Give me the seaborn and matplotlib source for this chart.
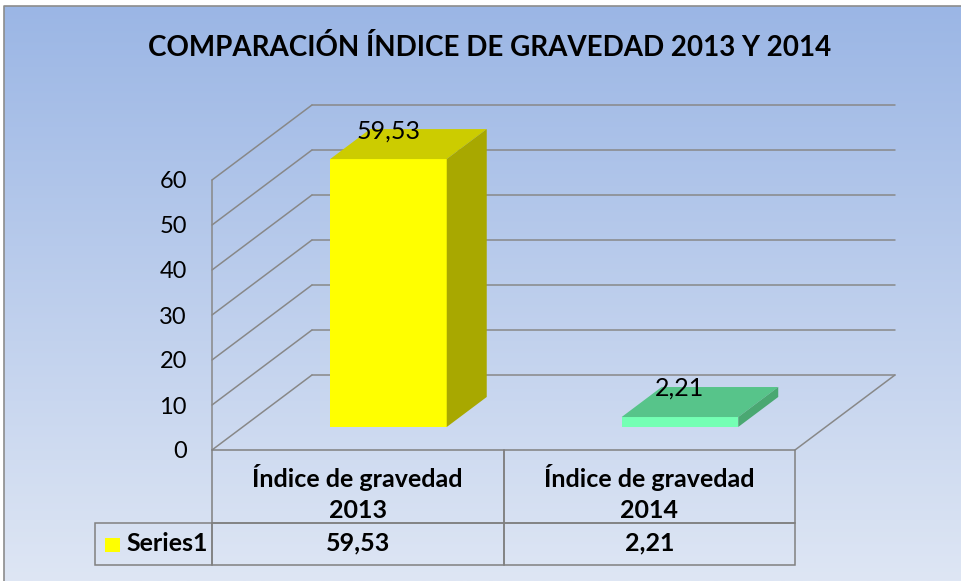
import numpy as np
import pandas as pd
import matplotlib
matplotlib.use('Agg')
import matplotlib.pyplot as plt
from matplotlib.patches import Rectangle
import seaborn as sns

# data
categories = ['Índice de gravedad\n2013', 'Índice de gravedad\n2014']
values = [59.53, 2.21]
value_labels = ['59,53', '2,21']
series_name = 'Series1'
y_ticks = [0, 10, 20, 30, 40, 50, 60]
title = 'COMPARACIÓN ÍNDICE DE GRAVEDAD 2013 Y 2014'

front_colors = ['#FFFF00', '#74FFB4']
top_colors = ['#CCCC00', '#57C48A']
side_colors = ['#A8A800', '#4AA872']
GRID = '#888888'
TABLE_EDGE = '#808080'

sns.set_theme(style='white')
plt.rcParams['font.family'] = ['Lato', 'DejaVu Sans']

fig = plt.figure(figsize=(9.61, 5.81), dpi=100)

# background gradient with border
bg = fig.add_axes([0, 0, 1, 1])
bg.axis('off')
grad = np.linspace(0, 1, 256).reshape(-1, 1)
top_c = np.array([155, 182, 229]) / 255
bot_c = np.array([222, 230, 244]) / 255
img = top_c[None, None, :] * (1 - grad[..., None]) + bot_c[None, None, :] * grad[..., None]
bg.imshow(img, extent=[4, 961, 581, 6], aspect='auto')
bg.plot([4, 4, 961], [581, 6, 6], color='#8c8c8c', lw=1.2)
bg.set_xlim(0, 961)
bg.set_ylim(581, 0)

fig.text(490 / 961, 1 - 48 / 581, title, ha='center', va='center',
         fontsize=20, fontweight='bold', color='black')

ax = fig.add_axes([212 / 961, 131 / 581, 583 / 961, 270 / 581])
ax.set_facecolor('none')

# 3d geometry (data units)
depth_x, depth_y = 0.343, 16.67
f0, f1 = 0.307, 0.707
sx, sy = f0 * depth_x, f0 * depth_y
ddx, ddy = (f1 - f0) * depth_x, (f1 - f0) * depth_y

# walls and floor
for v in y_ticks:
    ax.plot([-0.5, -0.5 + depth_x], [v, v + depth_y], color=GRID, lw=1.1, zorder=1, clip_on=False)
    ax.plot([-0.5 + depth_x, 1.5 + depth_x], [v + depth_y, v + depth_y], color=GRID, lw=1.1,
            zorder=1, clip_on=False)
ax.plot([-0.5, -0.5], [0, y_ticks[-1]], color=GRID, lw=1.1, zorder=1, clip_on=False)
ax.plot([1.5, 1.5 + depth_x], [0, depth_y], color=GRID, lw=1.1, zorder=1, clip_on=False)

df = pd.DataFrame({'cat': categories, 'val': values})
sns.barplot(data=df, x='cat', y='val', hue='cat', palette=front_colors, width=0.4,
            saturation=1, legend=False, ax=ax)

for i, (patch, v) in enumerate(zip(ax.patches, values)):
    patch.set_x(patch.get_x() + sx)
    patch.set_y(sy)
    patch.set_linewidth(0)
    patch.set_zorder(3)
    patch.set_clip_on(False)
    xl = patch.get_x()
    xr = xl + patch.get_width()
    top = v + sy
    ax.fill([xl, xr, xr + ddx, xl + ddx], [top, top, top + ddy, top + ddy],
            color=top_colors[i], lw=0, zorder=3, clip_on=False)
    ax.fill([xr, xr, xr + ddx, xr + ddx], [sy, top, top + ddy, sy + ddy],
            color=side_colors[i], lw=0, zorder=3, clip_on=False)
    ax.annotate(value_labels[i], ((xl + xr) / 2, top), xytext=(0, 20.5),
                textcoords='offset points', ha='center', va='center',
                fontsize=18, color='black', zorder=5, annotation_clip=False)

ax.set_xlim(-0.5, 1.5)
ax.set_ylim(0, 60)
ax.set_yticks(y_ticks)
ax.set_yticklabels([str(t) for t in y_ticks], fontsize=17, color='black')
ax.tick_params(axis='y', length=0, pad=18)
ax.set_xticks([])
ax.set_xlabel('')
ax.set_ylabel('')
for s in ax.spines.values():
    s.set_visible(False)

# data table under the plot (axes coordinates)
label_w = 0.2007
head_h, row_h = 0.270, 0.156
col_w = 1.0 / len(categories)
for i, (cat, lab) in enumerate(zip(categories, value_labels)):
    x0 = i * col_w
    ax.add_patch(Rectangle((x0, -head_h), col_w, head_h, transform=ax.transAxes,
                           facecolor='none', edgecolor=TABLE_EDGE, lw=1.1, clip_on=False))
    ax.add_patch(Rectangle((x0, -head_h - row_h), col_w, row_h, transform=ax.transAxes,
                           facecolor='none', edgecolor=TABLE_EDGE, lw=1.1, clip_on=False))
    ax.text(x0 + col_w / 2, -0.161, cat, transform=ax.transAxes, ha='center', va='center',
            fontsize=18, fontweight='bold', linespacing=1.42, color='black')
    ax.text(x0 + col_w / 2, -0.344, lab, transform=ax.transAxes, ha='center', va='center',
            fontsize=18, fontweight='bold', color='black')
ax.add_patch(Rectangle((-label_w, -head_h - row_h), label_w, row_h, transform=ax.transAxes,
                       facecolor='none', edgecolor=TABLE_EDGE, lw=1.1, clip_on=False))
ax.add_patch(Rectangle((-0.1835, -0.378), 0.0257, 0.052, transform=ax.transAxes,
                       facecolor=front_colors[0], lw=0, clip_on=False, zorder=6))
ax.text(-0.1475, -0.346, series_name, transform=ax.transAxes, ha='left', va='center',
        fontsize=18, fontweight='bold', color='black')

fig.savefig('out.png', dpi=100)
